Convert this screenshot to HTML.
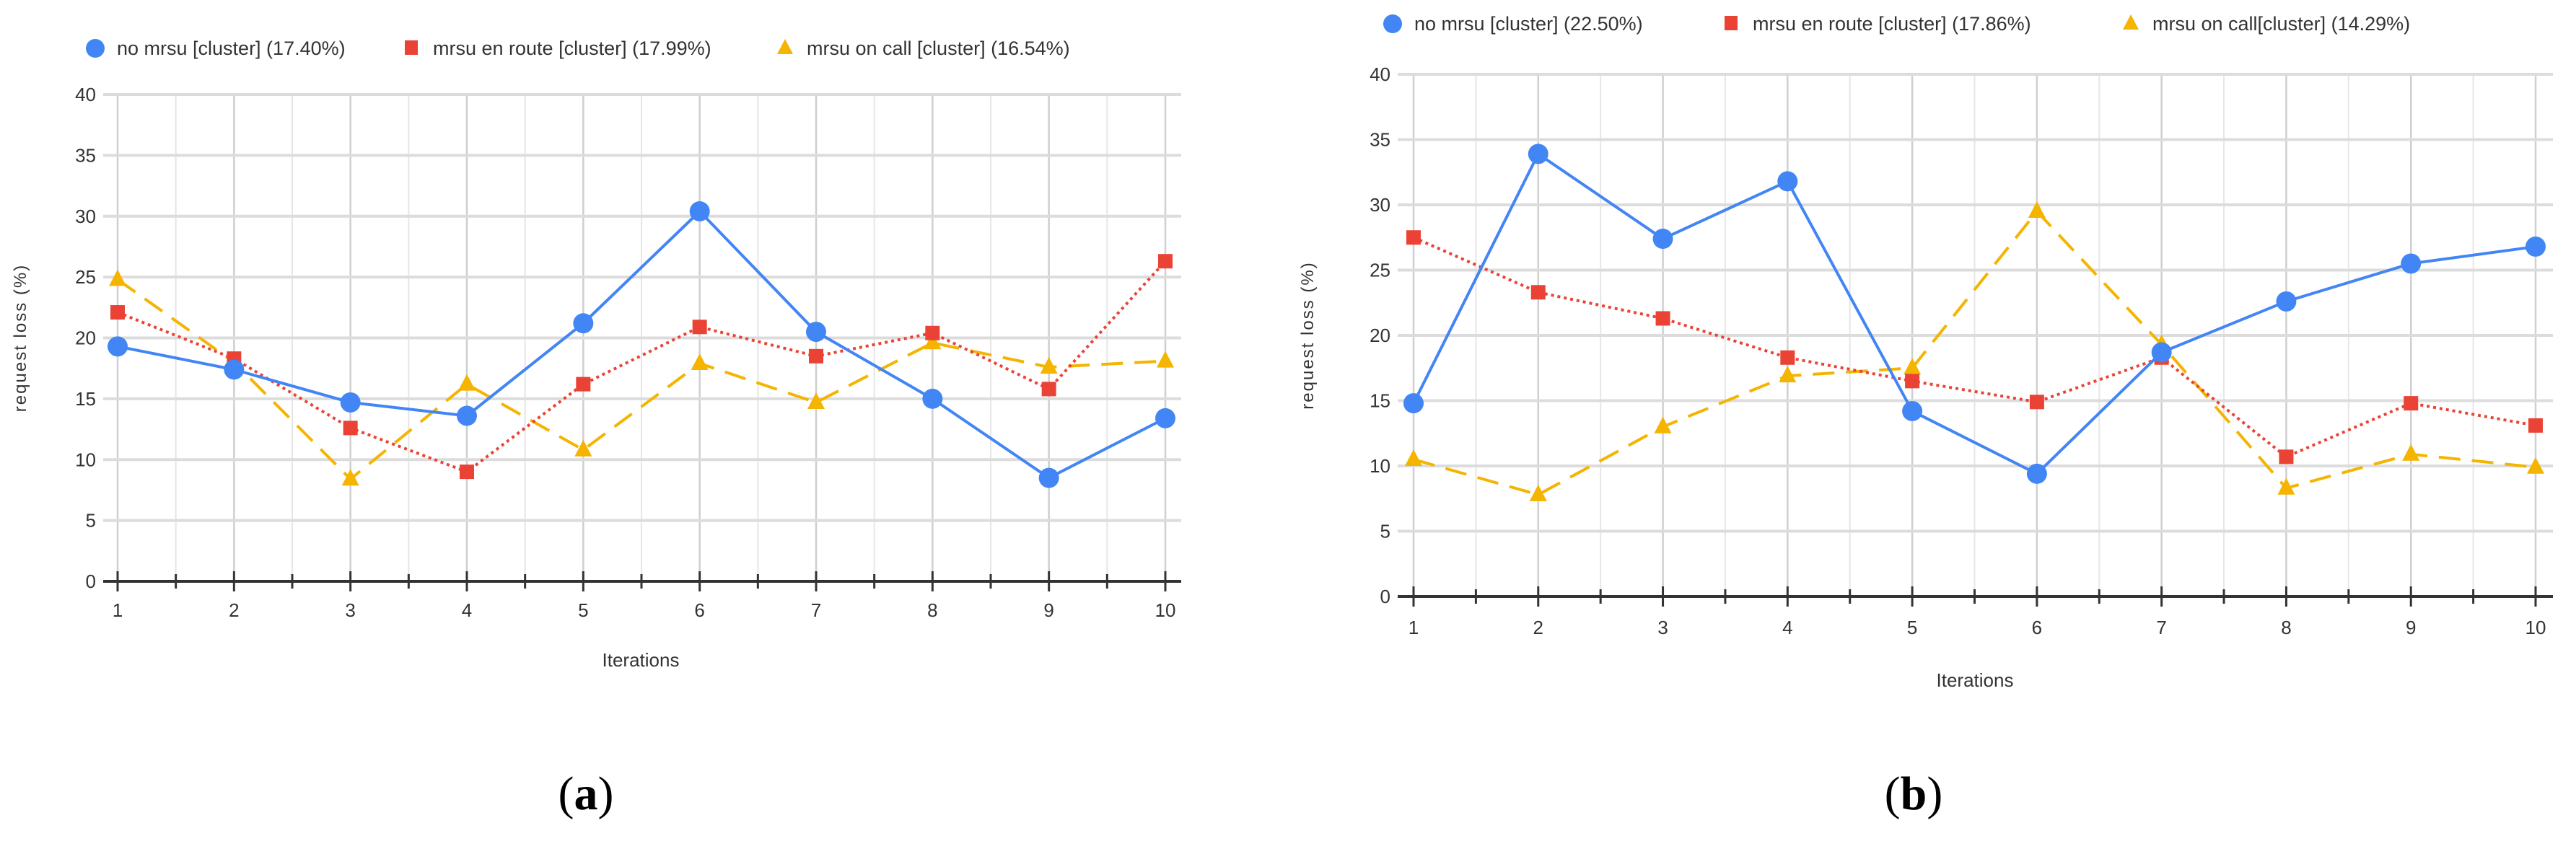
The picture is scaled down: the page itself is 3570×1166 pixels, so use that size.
<!DOCTYPE html>
<html><head><meta charset="utf-8">
<style>
html,body{margin:0;padding:0;background:#fff;}
svg{display:block;}
text{font-family:"Liberation Sans",sans-serif;}
</style></head>
<body>
<svg id="svg" width="3570" height="1166" viewBox="0 0 3570 1166" xmlns="http://www.w3.org/2000/svg">
<text x="812" y="1122" text-anchor="middle" style="font-family:'Liberation Serif',serif;font-size:66px;">(<tspan font-weight="bold">a</tspan>)</text>
<text x="2652" y="1122" text-anchor="middle" style="font-family:'Liberation Serif',serif;font-size:66px;">(<tspan font-weight="bold">b</tspan>)</text>
</svg>
<script>
const categories = [1,2,3,4,5,6,7,8,9,10];
const yTicks = [0,5,10,15,20,25,30,35,40];
const aNoMrsu = [19.3,17.4,14.7,13.6,21.2,30.4,20.5,15.0,8.5,13.4];
const aEnRoute = [22.1,18.3,12.6,9.0,16.2,20.9,18.5,20.4,15.8,26.3];
const aOnCall = [24.8,18.0,8.4,16.2,10.8,17.9,14.7,19.6,17.6,18.1];
const bNoMrsu = [14.8,33.9,27.4,31.8,14.2,9.4,18.7,22.6,25.5,26.8];
const bEnRoute = [27.5,23.3,21.3,18.3,16.5,14.9,18.3,10.7,14.8,13.1];
const bOnCall = [10.5,7.8,13.0,16.9,17.5,29.5,19.3,8.3,10.9,9.9];
const aLegend = ["no mrsu [cluster] (17.40%)","mrsu en route [cluster] (17.99%)","mrsu on call [cluster] (16.54%)"];
const bLegend = ["no mrsu [cluster] (22.50%)","mrsu en route [cluster] (17.86%)","mrsu on call[cluster] (14.29%)"];

const NS="http://www.w3.org/2000/svg";
const svg=document.getElementById('svg');
function mk(tag,attrs,parent){const e=document.createElementNS(NS,tag);for(const k in attrs)e.setAttribute(k,attrs[k]);(parent||svg).appendChild(e);return e;}

function chart(cfg){
  const g=mk('g',{});
  
  
  const xs=v=>cfg.x1+(v-1)*(cfg.x10-cfg.x1)/9;
  const ys=v=>cfg.y0+(v)*(cfg.y40-cfg.y0)/40;
  // minor vertical grid
  for(let i=1;i<=10;i+=0.5){
    const l=mk('line',{x1:xs(i),x2:xs(i),y1:ys(40),y2:ys(0),stroke:(i%1===0)?'#cfcfcf':'#e6e6e6','stroke-width':i%1===0?2.5:2},g);
    
    
  }
  yTicks.forEach(t=>{
    const l=mk('line',{x1:cfg.gl,x2:cfg.gr,y1:ys(t),y2:ys(t),stroke:t===0?'#333':'#dcdcdc','stroke-width':t===0?4:4},g);
    
    
    const tx=mk('text',{x:cfg.gl-10,y:ys(t)+9,'text-anchor':'end','font-size':26,fill:'#333'},g);
    tx.textContent=t;
    
    
  });
  for(let i=1;i<=10;i+=0.5){
    const big=i%1===0;
    const l=mk('line',{x1:xs(i),x2:xs(i),y1:ys(0)-(big?14:10),y2:ys(0)+(big?14:10),stroke:'#333','stroke-width':3},g);
    
    
  }
  categories.forEach(c=>{
    const tx=mk('text',{x:xs(c),y:cfg.xly,'text-anchor':'middle','font-size':26,fill:'#333'},g);
    tx.textContent=c;
    
    
  });
  const xt=mk('text',{x:cfg.xtx,y:cfg.xty,'text-anchor':'middle','font-size':26,fill:'#333'},g);
  xt.textContent='Iterations';
  
  
  const ycx=cfg.ytx, ycy=(ys(0)+ys(40))/2;
  const yt=mk('text',{x:ycx,y:ycy,'text-anchor':'middle','font-size':24,fill:'#333',transform:`rotate(-90 ${ycx} ${ycy})`,'letter-spacing':2},g);
  yt.textContent='request loss (%)';
  
  

  const series=[
    {d:cfg.s[2],c:'#f4b400',dash:'30 16',w:4,m:'tri',n:'series-on-call'},
    {d:cfg.s[1],c:'#ea4335',dash:'4 5',w:4,m:'sq',n:'series-en-route'},
    {d:cfg.s[0],c:'#4285f4',dash:'',w:4,m:'circ',n:'series-no-mrsu'}
  ];
  series.forEach(s=>{
    const pts=s.d.map((v,i)=>xs(categories[i])+','+ys(v)).join(' ');
    const pl=mk('polyline',{points:pts,fill:'none',stroke:s.c,'stroke-width':s.w,'stroke-dasharray':s.dash,'stroke-linejoin':'round'},g);
    
    
    s.d.forEach((v,i)=>{
      const x=xs(categories[i]),y=ys(v);let m;
      if(s.m==='circ')m=mk('circle',{cx:x,cy:y,r:14,fill:s.c},g);
      else if(s.m==='sq')m=mk('rect',{x:x-10,y:y-10,width:20,height:20,fill:s.c},g);
      else m=mk('polygon',{points:`${x},${y-14} ${x-12},${y+9} ${x+12},${y+9}`,fill:s.c},g);
      
      
    });
  });
  // legend
  const L=cfg.leg;
  const cols=['#4285f4','#ea4335','#f4b400'];
  L.xs.forEach((lx,i)=>{
    let m;
    if(i===0)m=mk('circle',{cx:lx,cy:L.y,r:13,fill:cols[0]},g);
    else if(i===1)m=mk('rect',{x:lx-9,y:L.y-11,width:18,height:20,fill:cols[1]},g);
    else m=mk('polygon',{points:`${lx},${L.y-13} ${lx-11},${L.y+8} ${lx+11},${L.y+8}`,fill:cols[2]},g);
    
    
    const t=mk('text',{x:lx+30,y:L.y+9,'font-size':27,fill:'#333'},g);
    t.textContent=cfg.legText[i];
    
    
  });
}
chart({name:'chart-a',x1:163,x10:1615,y0:806,y40:131,gl:143,gr:1637,xly:855,xtx:888,xty:924,ytx:36,
  s:[aNoMrsu,aEnRoute,aOnCall],legText:aLegend,leg:{y:67,xs:[132,570,1088]}});
chart({name:'chart-b',x1:1959,x10:3514,y0:827,y40:103,gl:1937,gr:3538,xly:879,xtx:2737,xty:952,ytx:1820,
  s:[bNoMrsu,bEnRoute,bOnCall],legText:bLegend,leg:{y:33,xs:[1930,2399,2953]}});
</script>
</body></html>
